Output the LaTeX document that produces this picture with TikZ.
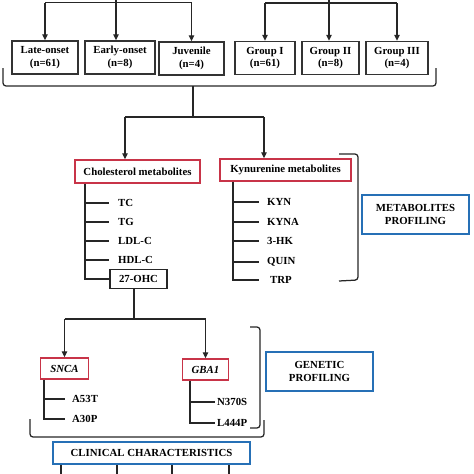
\documentclass[tikz,border=0pt]{standalone}
\usepackage{fontspec}
\setmainfont{Liberation Serif}
\usetikzlibrary{arrows.meta}
\definecolor{boxred}{RGB}{200,52,72}
\definecolor{boxblue}{RGB}{38,112,182}
\begin{document}
\begin{tikzpicture}[x=1pt,y=-1pt,
  every node/.style={font=\fontsize{10.8}{12.5}\selectfont\bfseries, align=center},
  conn/.style={line width=1.25pt, black!85},
  arr/.style={conn, -{Triangle[length=6pt,width=5.5pt]}},
  grpbox/.style={draw=black!80, line width=1.5pt, inner sep=0pt, minimum height=33pt},
  redbox/.style={draw=boxred, line width=1.4pt, inner sep=0pt, minimum height=22pt},
  bluebox/.style={draw=boxblue, line width=2.6pt, inner sep=0pt},
  ohcbox/.style={draw=black!85, line width=1.4pt, inner sep=0pt, minimum height=19pt, minimum width=57pt},
  leaf/.style={anchor=west, inner ysep=1pt},
  brk/.style={conn, rounded corners=3pt}
]
\useasboundingbox (0,0) rectangle (474,474);

% top groups
\node[grpbox, minimum width=66pt] (late) at (45,57.5) {Late-onset\\(n=61)};
\node[grpbox, minimum width=70pt] (early) at (120,57.5) {Early-onset\\(n=8)};
\node[grpbox, minimum width=65pt] (juv) at (191.5,58.5) {Juvenile\\(n=4)};
\node[grpbox, minimum width=60pt] (g1) at (265,58) {Group I\\(n=61)};
\node[grpbox, minimum width=57pt] (g2) at (330.5,58) {Group II\\(n=8)};
\node[grpbox, minimum width=62pt] (g3) at (397,58) {Group III\\(n=4)};

\coordinate (tl) at (116,2.5);
\coordinate (tr) at (329,3);
\draw[conn] (116,0) -- (tl);
\draw[conn] (329,0) -- (tr);
\draw[conn, line width=1.6pt] (tl -| late.north) -- (tl -| juv.north);
\draw[conn] (tr -| g1.north) -- (tr -| g3.north);
\draw[arr] (tl -| late.north) -- (late.north);
\draw[arr] (tl) -- (tl |- early.north);
\draw[arr] (tl -| juv.north) -- (juv.north);
\draw[arr] (tr -| g1.north) -- (g1.north);
\draw[arr] (tr) -- (tr |- g2.north);
\draw[arr] (tr -| g3.north) -- (g3.north);

% big bracket
\coordinate (bl) at (3,68);
\coordinate (br) at (436,68);
\coordinate (bm) at (193,86);
\draw[brk] (bl) |- (bm) -| (br);

% split to metabolites
\coordinate (sp) at (193,117);
\coordinate (sl) at (125,117);
\coordinate (sr) at (264,117);
\draw[conn] (bm) -- (sp);
\draw[conn] (sl) -- (sr);

\node[redbox, minimum width=125pt, minimum height=23pt] (chol) at (137.5,171.5) {Cholesterol metabolites};
\node[redbox, minimum width=131pt] (kyn) at (285.5,170) {Kynurenine metabolites};
\draw[arr] (sl) -- (sl |- chol.north);
\draw[arr] (sr) -- (sr |- kyn.north);

% metabolites bracket
\draw[brk] (339,154) -| (358,280) -- (339,281);
\node[bluebox, minimum width=107pt, minimum height=39pt] (metp) at (415.5,214.5) {METABOLITES\\PROFILING};

% cholesterol leaves
\coordinate (ct) at (85,0);
\node[leaf, inner xsep=9pt] (tc) at (109,203) {TC};
\node[leaf, inner xsep=9pt] (tg) at (109,222) {TG};
\node[leaf, inner xsep=9pt] (ldl) at (109,241) {LDL-C};
\node[leaf, inner xsep=9pt] (hdl) at (109,260) {HDL-C};
\node[ohcbox] (ohc) at (138.5,279) {27-OHC};
\draw[conn] (chol.south -| ct) |- (ohc.west);
\foreach \n in {tc,tg,ldl,hdl} \draw[conn] (\n.west -| ct) -- (\n.west);

% kynurenine leaves
\coordinate (kt) at (233,0);
\node[leaf, inner xsep=8pt] (kyn1) at (259,202) {KYN};
\node[leaf, inner xsep=8pt] (kyna) at (259,222) {KYNA};
\node[leaf, inner xsep=8pt] (hk) at (259,241) {3-HK};
\node[leaf, inner xsep=8pt] (quin) at (259,262) {QUIN};
\node[leaf, inner xsep=11pt] (trp) at (259,280) {TRP};
\draw[conn] (kyn.south -| kt) |- (trp.west);
\foreach \n in {kyn1,kyna,hk,quin} \draw[conn] (\n.west -| kt) -- (\n.west);

% genetic split
\coordinate (gs) at (134,319);
\node[redbox, minimum width=48pt, minimum height=21pt] (snca) at (64.5,368.5) {\itshape SNCA};
\node[redbox, minimum width=46pt, minimum height=21pt] (gba) at (205.5,369.5) {\itshape GBA1};
\draw[conn] (gs |- ohc.south) -- (gs);
\draw[conn] (gs -| snca.north) -- (gs -| gba.north);
\draw[arr] (gs -| snca.north) -- (snca.north);
\draw[arr] (gs -| gba.north) -- (gba.north);

\coordinate (st) at (44,0);
\node[leaf, inner xsep=7pt] (a53) at (65,399) {A53T};
\node[leaf, inner xsep=7pt] (a30) at (65,419) {A30P};
\draw[conn] (snca.south -| st) |- (a30.west);
\draw[conn] (a53.west -| st) -- (a53.west);

\coordinate (gt) at (190,0);
\node[leaf, inner xsep=2pt] (n370) at (215,402) {N370S};
\node[leaf, inner xsep=2pt] (l444) at (215,423) {L444P};
\draw[conn] (gba.south -| gt) |- (l444.west);
\draw[conn] (n370.west -| gt) -- (n370.west);

% genetic bracket
\draw[brk] (250,327) -| (260,428) -- (250,428);
\node[bluebox, minimum width=107pt, minimum height=39pt] (genp) at (319.5,371.5) {GENETIC\\PROFILING};

% bottom bracket
\draw[brk] (30,419) |- (264,437) -- (264,420);

% clinical
\node[bluebox, minimum width=197pt, minimum height=22pt] (clin) at (151.5,453) {CLINICAL CHARACTERISTICS};
\foreach \x in {61,117,172,229} \draw[conn] (clin.south -| \x,0) -- (\x,474);
\end{tikzpicture}
\end{document}
